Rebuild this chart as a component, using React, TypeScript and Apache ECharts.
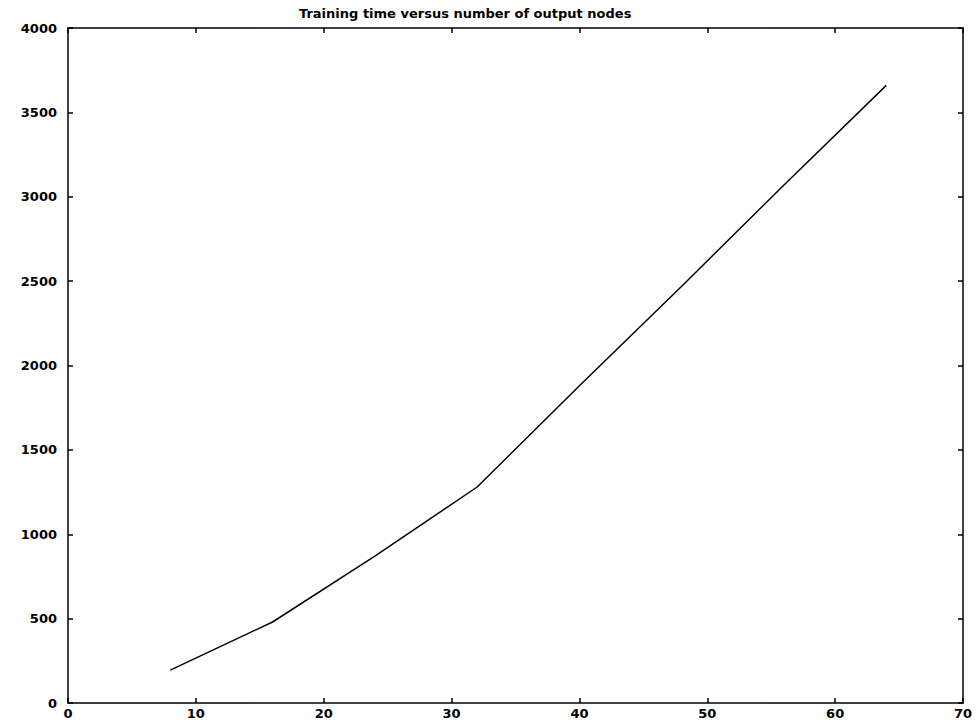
import React, { useEffect, useRef } from "react";
import * as echarts from "echarts";

// Output nodes vs. training time
const outputNodes = [8, 16, 24, 32, 40, 48, 56, 64];
const trainingTime = [195, 480, 870, 1280, 1880, 2470, 3070, 3660];

const xTicks = [0, 10, 20, 30, 40, 50, 60, 70];
const yTicks = [0, 500, 1000, 1500, 2000, 2500, 3000, 3500, 4000];

const titleText = "Training time versus number of output nodes";

const FONT = "DejaVu Sans";

export default function App() {
  const ref = useRef<HTMLDivElement>(null);

  useEffect(() => {
    if (!ref.current) return;
    const chart = echarts.init(ref.current, undefined, { renderer: "svg" });
    const axisCommon = {
      axisLine: { show: true, onZero: false, lineStyle: { color: "#000", width: 1.5 } },
      axisTick: { show: true, inside: true, length: 5, lineStyle: { color: "#000", width: 1.5 } },
      splitLine: { show: false },
    };
    const labelStyle = {
      color: "#000",
      fontFamily: FONT,
      fontWeight: "bold" as const,
      fontSize: 13,
      formatter: (v: number) => String(v),
    };
    chart.setOption({
      animation: false,
      backgroundColor: "#fff",
      title: {
        text: titleText,
        left: 294,
        top: 2,
        textStyle: { color: "#000", fontFamily: FONT, fontWeight: "bold", fontSize: 13 },
      },
      grid: { left: 68, right: 15, top: 28, bottom: 20, containLabel: false },
      xAxis: [
        {
          type: "value",
          min: xTicks[0],
          max: xTicks[xTicks.length - 1],
          interval: 10,
          position: "bottom",
          ...axisCommon,
          axisLabel: { ...labelStyle, margin: 4 },
        },
        {
          type: "value",
          min: xTicks[0],
          max: xTicks[xTicks.length - 1],
          interval: 10,
          position: "top",
          ...axisCommon,
          axisLabel: { show: false },
        },
      ],
      yAxis: [
        {
          type: "value",
          min: yTicks[0],
          max: yTicks[yTicks.length - 1],
          interval: 500,
          position: "left",
          ...axisCommon,
          axisLabel: { ...labelStyle, margin: 11 },
        },
        {
          type: "value",
          min: yTicks[0],
          max: yTicks[yTicks.length - 1],
          interval: 500,
          position: "right",
          ...axisCommon,
          axisLabel: { show: false },
        },
      ],
      series: [
        {
          type: "line",
          data: outputNodes.map((n, i) => [n, trainingTime[i]]),
          showSymbol: false,
          lineStyle: { color: "#000", width: 1.5 },
        },
      ],
    });
    return () => chart.dispose();
  }, []);

  return <div ref={ref} style={{ width: 978, height: 723, position: "absolute", left: 0, top: 0 }} />;
}
